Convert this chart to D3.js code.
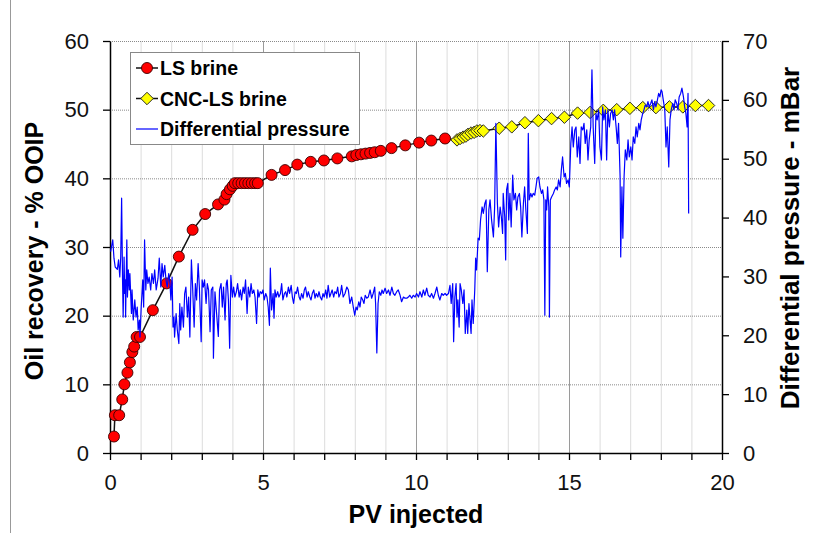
<!DOCTYPE html>
<html>
<head>
<meta charset="utf-8">
<script src="https://cdn.jsdelivr.net/npm/d3@7"></script>
<style>
  body { margin: 0; background: #fff; }
  svg { display: block; font-family: "Liberation Sans", Arial, sans-serif; }
</style>
</head>
<body>
<svg id="chart" width="814" height="533"></svg>
<script>
// LS brine flood - oil recovery (% OOIP) vs PV injected
const lsPV = [0.13, 0.16, 0.30, 0.40, 0.47, 0.57, 0.65, 0.73, 0.79, 0.87, 0.98, 1.40, 1.85, 2.25, 2.70, 3.11, 3.53, 3.74, 3.81, 3.92, 4.01,
  4.08, 4.19, 4.30, 4.41, 4.52, 4.63, 4.74, 4.83, 5.28, 5.72, 6.12, 6.56, 6.99, 7.43, 7.90, 8.05, 8.20, 8.35, 8.50, 8.65, 8.85,
  9.20, 9.65, 10.10, 10.50, 10.95];
const lsRecovery = [2.4, 5.5, 5.5, 7.8, 10.0, 11.7, 13.2, 14.7, 15.5, 16.9, 16.9, 20.8, 24.7, 28.6, 32.5, 34.8, 36.2, 36.9, 37.7, 38.4, 38.9,
  39.3, 39.3, 39.3, 39.3, 39.3, 39.3, 39.3, 39.3, 40.5, 41.2, 42.0, 42.4, 42.6, 42.9, 43.2, 43.4, 43.5, 43.6, 43.7, 43.8, 44.0,
  44.4, 44.8, 45.2, 45.5, 45.8];

// CNC-LS brine flood
const cncPV = [11.34, 11.44, 11.54, 11.63, 11.70, 11.80, 11.90, 11.99, 12.09, 12.20, 12.72, 13.13, 13.56, 14.00, 14.43, 14.85,
  15.28, 15.69, 16.12, 16.56, 16.99, 17.41, 17.84, 18.28, 18.72, 19.13, 19.56];
const cncRecovery = [45.6, 45.8, 46.0, 46.15, 46.4, 46.6, 46.7, 46.9, 46.95, 46.9, 47.3, 47.5, 48.1, 48.4, 48.7, 48.9,
  49.5, 49.6, 49.9, 50.0, 50.2, 50.3, 50.3, 50.4, 50.4, 50.6, 50.6];

// differential pressure trace [PV injected, mBar]
const dpTrace = [
  [0.02,34.2],[0.09,36.2],[0.13,33.1],[0.17,31.6],[0.24,31.2],[0.28,32.8],[0.32,29.9],[0.35,33.3],[0.38,43.3],[0.41,29.4],
  [0.43,23.1],[0.46,33.3],[0.48,27.1],[0.50,29.4],[0.51,23.1],[0.55,36.2],[0.57,26.5],[0.60,31.1],[0.63,27.7],[0.65,30.5],
  [0.70,23.7],[0.72,27.7],[0.76,22.6],[0.81,26.0],[0.85,23.1],[0.89,24.8],[0.92,20.9],[0.96,22.6],[0.98,19.7],[1.02,24.8],
  [1.07,29.4],[1.10,24.8],[1.13,36.2],[1.17,27.7],[1.20,31.1],[1.24,28.8],[1.28,29.9],[1.33,27.7],[1.37,30.5],[1.42,28.8],
  [1.46,31.1],[1.51,27.7],[1.57,29.7],[1.61,33.1],[1.66,28.2],[1.70,32.2],[1.74,29.9],[1.79,31.9],[1.83,29.4],[1.87,28.2],
  [1.92,30.5],[1.96,28.8],[1.99,26.0],[2.03,29.9],[2.06,21.4],[2.09,23.1],[2.11,19.7],[2.16,23.7],[2.20,20.9],[2.25,18.6],
  [2.28,25.4],[2.31,20.9],[2.35,24.8],[2.40,21.4],[2.44,27.1],[2.48,28.2],[2.53,23.1],[2.57,26.5],[2.61,19.7],[2.66,32.8],
  [2.70,28.2],[2.75,21.4],[2.79,28.8],[2.83,26.0],[2.88,32.2],[2.92,28.2],[2.98,18.9],[3.01,29.4],[3.05,28.2],[3.09,29.4],
  [3.14,25.4],[3.18,28.8],[3.22,27.7],[3.27,20.6],[3.31,27.7],[3.36,28.2],[3.38,16.1],[3.43,27.4],[3.54,19.8],[3.58,27.7],
  [3.63,28.8],[3.67,24.8],[3.71,28.2],[3.76,22.6],[3.80,28.8],[3.83,29.4],[3.87,26.0],[3.91,17.8],[3.95,30.2],[4.00,26.5],
  [4.04,28.2],[4.08,26.5],[4.13,27.4],[4.17,28.8],[4.22,26.5],[4.26,27.7],[4.30,26.0],[4.35,28.2],[4.39,27.1],[4.43,29.4],
  [4.48,23.7],[4.52,28.2],[4.57,26.5],[4.61,28.8],[4.65,27.1],[4.70,27.7],[4.74,26.5],[4.79,22.0],[4.83,27.7],[4.87,26.5],
  [4.91,27.4],[4.96,27.1],[5.00,27.7],[5.04,26.0],[5.09,27.1],[5.13,26.5],[5.17,24.8],[5.21,21.7],[5.24,31.4],[5.28,24.3],
  [5.33,27.1],[5.36,22.9],[5.39,27.7],[5.43,26.5],[5.48,27.4],[5.52,26.5],[5.57,27.1],[5.61,28.8],[5.65,26.0],[5.70,27.1],
  [5.74,27.4],[5.78,26.5],[5.83,28.2],[5.87,27.1],[5.92,28.5],[5.96,26.5],[6.00,25.4],[6.05,27.4],[6.09,27.1],[6.13,28.2],
  [6.18,26.5],[6.22,26.0],[6.26,27.1],[6.31,26.3],[6.35,27.7],[6.39,28.2],[6.44,26.5],[6.48,27.4],[6.53,26.5],[6.57,26.0],
  [6.61,27.1],[6.66,27.7],[6.70,26.3],[6.74,27.1],[6.79,26.5],[6.83,27.4],[6.87,26.5],[6.92,26.0],[6.96,27.1],[7.00,26.5],
  [7.05,27.7],[7.09,26.3],[7.13,28.5],[7.18,26.5],[7.22,27.1],[7.26,27.7],[7.31,26.5],[7.35,27.4],[7.40,27.1],[7.44,28.2],
  [7.48,26.5],[7.53,27.1],[7.57,28.5],[7.62,26.5],[7.68,27.1],[7.74,28.2],[7.79,27.7],[7.84,25.4],[7.90,26.5],[7.95,24.8],
  [8.00,23.4],[8.04,24.8],[8.08,24.3],[8.13,25.7],[8.17,24.8],[8.21,26.5],[8.26,26.0],[8.30,25.4],[8.34,26.8],[8.39,26.3],
  [8.44,26.5],[8.50,27.7],[8.55,26.3],[8.60,27.1],[8.65,28.2],[8.68,25.4],[8.72,17.0],[8.76,25.4],[8.80,27.4],[8.85,26.8],
  [8.89,27.7],[8.93,27.1],[8.99,28.0],[9.04,27.1],[9.10,27.7],[9.15,26.8],[9.21,28.2],[9.26,27.1],[9.31,26.8],[9.37,27.4],
  [9.42,27.7],[9.48,26.8],[9.53,25.7],[9.59,26.5],[9.64,26.3],[9.70,26.3],[9.75,26.5],[9.80,26.8],[9.86,26.3],[9.91,26.8],
  [9.97,26.5],[10.02,27.1],[10.08,26.5],[10.13,27.4],[10.19,26.5],[10.24,27.7],[10.29,26.8],[10.35,28.0],[10.40,26.8],[10.46,26.5],
  [10.51,27.1],[10.57,26.3],[10.62,27.1],[10.68,28.2],[10.73,26.8],[10.78,26.0],[10.84,27.1],[10.89,26.8],[10.95,27.1],[11.00,26.8],
  [11.06,27.1],[11.11,28.5],[11.15,25.4],[11.20,28.8],[11.23,18.9],[11.27,26.5],[11.31,28.8],[11.34,23.1],[11.37,26.0],[11.41,21.4],
  [11.44,28.8],[11.48,27.7],[11.53,25.4],[11.57,27.7],[11.61,20.3],[11.66,24.3],[11.69,20.3],[11.73,25.4],[11.76,23.1],[11.80,20.3],
  [11.83,26.0],[11.87,22.0],[11.92,27.7],[11.95,33.1],[11.98,31.1],[12.03,36.5],[12.07,36.2],[12.11,39.6],[12.16,41.8],[12.20,40.7],
  [12.25,42.4],[12.29,43.0],[12.33,30.8],[12.38,41.3],[12.42,43.0],[12.47,39.6],[12.53,36.7],[12.57,41.8],[12.61,56.0],[12.66,42.4],
  [12.70,38.4],[12.75,41.8],[12.79,40.1],[12.83,37.3],[12.85,44.1],[12.90,40.1],[12.93,32.8],[12.96,44.7],[13.00,45.8],[13.03,39.6],
  [13.07,44.1],[13.11,38.4],[13.16,47.2],[13.20,43.0],[13.25,44.1],[13.29,41.3],[13.33,43.5],[13.38,44.1],[13.42,41.8],[13.46,36.7],
  [13.51,42.4],[13.55,45.2],[13.59,41.3],[13.64,37.3],[13.67,54.3],[13.70,43.0],[13.75,44.1],[13.79,43.5],[13.83,44.1],[13.88,43.8],
  [13.92,45.2],[13.96,46.7],[14.01,46.9],[14.05,45.2],[14.10,44.1],[14.14,44.7],[14.18,43.0],[14.21,23.4],[14.24,43.0],[14.27,41.3],
  [14.30,45.2],[14.34,41.8],[14.36,23.1],[14.39,43.0],[14.43,43.5],[14.49,44.1],[14.53,44.7],[14.58,45.2],[14.62,44.7],[14.66,46.4],
  [14.71,45.2],[14.75,48.1],[14.79,50.3],[14.84,46.9],[14.88,47.5],[14.92,45.8],[14.97,46.4],[15.01,45.2],[15.06,52.6],[15.10,55.4],
  [15.14,52.0],[15.19,54.9],[15.23,55.4],[15.27,50.3],[15.32,53.7],[15.36,49.2],[15.40,55.4],[15.45,54.9],[15.49,56.0],[15.53,52.6],
  [15.58,54.9],[15.62,49.8],[15.66,53.2],[15.71,55.4],[15.75,65.1],[15.79,55.4],[15.84,49.2],[15.88,57.7],[15.92,56.6],[15.97,58.3],
  [16.01,52.0],[16.06,49.8],[16.10,58.8],[16.14,56.6],[16.19,58.3],[16.23,49.8],[16.27,58.3],[16.32,55.4],[16.36,57.7],[16.41,58.3],
  [16.45,56.6],[16.49,58.3],[16.54,55.4],[16.58,52.6],[16.62,56.0],[16.67,46.9],[16.69,33.3],[16.73,45.2],[16.76,36.5],[16.80,46.9],
  [16.84,51.5],[16.89,49.8],[16.93,53.2],[16.97,50.3],[17.02,52.0],[17.06,49.8],[17.10,53.7],[17.15,52.6],[17.19,55.4],[17.23,53.7],
  [17.28,56.0],[17.32,54.9],[17.36,56.6],[17.41,57.7],[17.45,58.3],[17.49,59.1],[17.54,58.8],[17.58,59.7],[17.62,58.8],[17.67,59.4],
  [17.71,60.0],[17.76,58.3],[17.80,59.7],[17.84,58.8],[17.89,60.0],[17.93,61.1],[17.97,60.5],[18.01,61.7],[18.04,61.4],[18.08,60.0],
  [18.13,58.3],[18.17,52.0],[18.21,55.4],[18.26,48.6],[18.30,56.6],[18.34,58.3],[18.39,59.4],[18.43,58.3],[18.47,60.0],[18.52,59.4],
  [18.56,58.3],[18.60,60.5],[18.65,61.1],[18.69,62.0],[18.74,60.5],[18.78,58.8],[18.82,57.7],[18.86,55.4],[18.89,61.1],[18.91,40.7]
];

const recoveryTicks = [0, 10, 20, 30, 40, 50, 60];
const pressureTicks = [0, 10, 20, 30, 40, 50, 60, 70];
const pvTicks = d3.range(0, 21);

const W = 814, H = 533;
const margin = { top: 41, right: 92, bottom: 80, left: 110 };
const innerW = W - margin.left - margin.right;
const innerH = H - margin.top - margin.bottom;

const svg = d3.select("#chart");

// outer frame edge
svg.append("line")
  .attr("x1", 10.5).attr("x2", 10.5).attr("y1", 0).attr("y2", H)
  .attr("stroke", "#999").attr("stroke-width", 1);

const g = svg.append("g").attr("transform", `translate(${margin.left},${margin.top})`);

const x = d3.scaleLinear().domain([0, 20]).range([0, innerW]);
const yL = d3.scaleLinear().domain([0, 60]).range([innerH, 0]);
const yR = d3.scaleLinear().domain([0, 70]).range([innerH, 0]);

// vertical grid
g.append("g")
  .selectAll("line")
  .data(pvTicks.filter(d => d > 0 && d < 20))
  .enter().append("line")
  .attr("x1", d => x(d) + 0.5).attr("x2", d => x(d) + 0.5)
  .attr("y1", 0).attr("y2", innerH)
  .attr("stroke", d => d % 5 === 0 ? "#9a9a9a" : "#dcdcdc")
  .attr("stroke-width", 1);

// horizontal grid
g.append("g")
  .selectAll("line")
  .data(recoveryTicks.filter(d => d > 0))
  .enter().append("line")
  .attr("x1", 0).attr("x2", innerW)
  .attr("y1", d => yL(d) + 0.5).attr("y2", d => yL(d) + 0.5)
  .attr("stroke", "#8a8a8a")
  .attr("stroke-dasharray", "1,1")
  .attr("stroke-width", 1);

// axes
const xAxis = g.append("g")
  .attr("transform", `translate(0,${innerH})`)
  .call(d3.axisBottom(x).tickValues(pvTicks).tickSize(7).tickSizeOuter(0).tickPadding(14)
    .tickFormat(d => d % 5 === 0 ? d : ""));

const leftAxis = g.append("g")
  .call(d3.axisLeft(yL).tickValues(recoveryTicks).tickSize(7).tickSizeOuter(0).tickPadding(14));

const rightAxis = g.append("g")
  .attr("transform", `translate(${innerW},0)`)
  .call(d3.axisRight(yR).tickValues(pressureTicks).tickSize(7).tickSizeOuter(0).tickPadding(14));

[xAxis, leftAxis, rightAxis].forEach(a => {
  a.select(".domain").attr("stroke", "#000").attr("stroke-width", 1.5);
  a.selectAll(".tick line").attr("stroke", "#000").attr("stroke-width", 1.3);
  a.selectAll("text")
    .attr("fill", "#111")
    .style("font-size", "22px")
    .style("font-family", "'Liberation Sans', Arial, sans-serif");
});

// series lines
const lsData = lsPV.map((v, i) => [v, lsRecovery[i]]);
const cncData = cncPV.map((v, i) => [v, cncRecovery[i]]);

const recLine = d3.line().x(d => x(d[0])).y(d => yL(d[1]));

g.append("path")
  .datum([lsData[lsData.length - 1]].concat(cncData))
  .attr("d", recLine)
  .attr("fill", "none").attr("stroke", "#111").attr("stroke-width", 1.5);

g.append("path")
  .datum(lsData)
  .attr("d", recLine)
  .attr("fill", "none").attr("stroke", "#111").attr("stroke-width", 1.5);

g.append("g")
  .selectAll("circle")
  .data(lsData)
  .enter().append("circle")
  .attr("cx", d => x(d[0])).attr("cy", d => yL(d[1]))
  .attr("r", 5.5)
  .attr("fill", "#ff0000").attr("stroke", "#3a0000").attr("stroke-width", 0.9);

const diamond = d3.symbol(d3.symbolSquare, 78);
g.append("g")
  .selectAll("path")
  .data(cncData)
  .enter().append("path")
  .attr("d", diamond)
  .attr("transform", d => `translate(${x(d[0])},${yL(d[1])}) rotate(45)`)
  .attr("fill", "#ffff00").attr("stroke", "#222").attr("stroke-width", 0.9);

// pressure trace on top
g.append("path")
  .datum(dpTrace)
  .attr("d", d3.line().x(d => x(d[0])).y(d => yR(d[1])))
  .attr("fill", "none").attr("stroke", "#0000ff").attr("stroke-width", 1.2)
  .attr("stroke-linejoin", "round");

// axis titles
svg.append("text")
  .attr("transform", "translate(43,251) rotate(-90)")
  .attr("text-anchor", "middle")
  .style("font-size", "25px").style("font-weight", "bold")
  .text("Oil recovery - % OOIP");

svg.append("text")
  .attr("transform", "translate(799,238) rotate(-90)")
  .attr("text-anchor", "middle")
  .style("font-size", "26px").style("font-weight", "bold")
  .text("Differential pressure - mBar");

svg.append("text")
  .attr("x", margin.left + innerW / 2).attr("y", 523)
  .attr("text-anchor", "middle")
  .style("font-size", "25px").style("font-weight", "bold")
  .text("PV injected");

// legend
const legend = svg.append("g");
legend.append("rect")
  .attr("x", 130.5).attr("y", 52.5).attr("width", 229).attr("height", 92)
  .attr("fill", "#fff").attr("stroke", "#888").attr("stroke-width", 1);

const legendItems = ["LS brine", "CNC-LS brine", "Differential pressure"];
const legendY = [68, 98.5, 129];

legendItems.forEach((name, i) => {
  const ly = legendY[i];
  legend.append("line")
    .attr("x1", 136).attr("x2", 158).attr("y1", ly).attr("y2", ly)
    .attr("stroke", i === 2 ? "#0000ff" : "#111").attr("stroke-width", i === 2 ? 1.2 : 1.5);
  if (i === 0) {
    legend.append("circle").attr("cx", 147).attr("cy", ly).attr("r", 5.5)
      .attr("fill", "#ff0000").attr("stroke", "#3a0000").attr("stroke-width", 0.9);
  } else if (i === 1) {
    legend.append("path").attr("d", diamond)
      .attr("transform", `translate(147,${ly}) rotate(45)`)
      .attr("fill", "#ffff00").attr("stroke", "#222").attr("stroke-width", 0.9);
  }
  legend.append("text")
    .attr("x", 160).attr("y", ly).attr("dy", "0.36em")
    .style("font-size", "19.5px").style("font-weight", "bold")
    .text(name);
});
</script>
</body>
</html>
